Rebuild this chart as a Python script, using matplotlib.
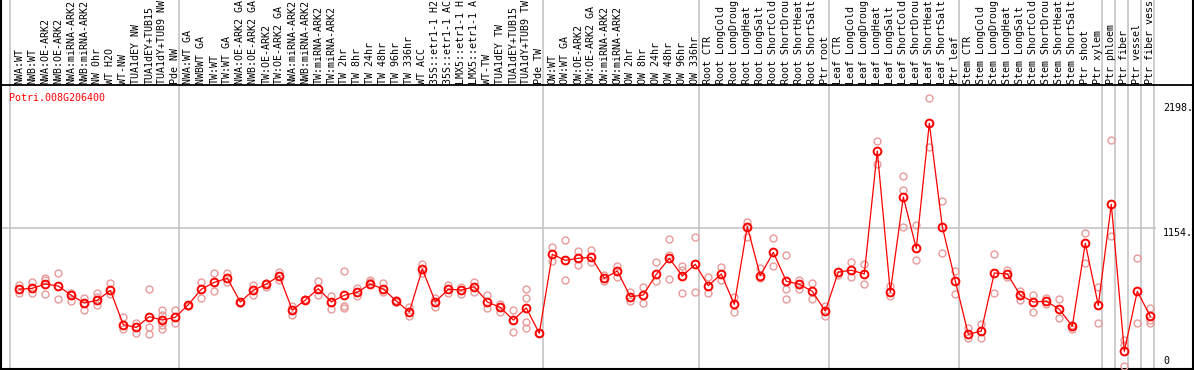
import numpy as np
import matplotlib
matplotlib.use('Agg')
import matplotlib.pyplot as plt

# nomes das amostras (como aparecem, truncados em 14 caracteres)
grupo_nw = ['NWA:WT', 'NWB:WT', 'NWA:OE-ARK2', 'NWB:OE-ARK2', 'NWA:miRNA-ARK2', 'NWB:miRNA-ARK2',
            'NW 0hr', 'WT H2O', 'WT-NW', 'TUA1dEY NW', 'TUA1dEY+TUB15', 'TUA1dY+TUB9 NW', 'Pde NW']
grupo_tw = ['NWA:WT GA', 'NWBWT GA', 'TW:WT', 'TW:WT GA', 'NWA:OE-ARK2 GA', 'NWB:OE-ARK2 GA',
            'TW:OE-ARK2', 'TW:OE-ARK2 GA', 'NWA:miRNA-ARK2', 'NWB:miRNA-ARK2', 'TW:miRNA-ARK2',
            'TW:miRNA-ARK2', 'TW 2hr', 'TW 8hr', 'TW 24hr', 'TW 48hr', 'TW 96hr', 'TW 336hr', 'WT ACC',
            '35S::etr1-1 H2', '35S::etr1-1 AC', 'LMX5::etr1-1 H', 'LMX5::etr1-1 A', 'WT-TW',
            'TUA1dEY TW', 'TUA1dEY+TUB15', 'TUA1dY+TUB9 TW', 'Pde TW']
grupo_ow = ['OW:WT', 'OW:WT GA', 'OW:OE-ARK2', 'OW:OE-ARK2 GA', 'OW:miRNA-ARK2', 'OW:miRNA-ARK2',
            'OW 2hr', 'OW 8hr', 'OW 24hr', 'OW 48hr', 'OW 96hr', 'OW 336hr']
grupo_root = ['Root CTR', 'Root LongCold', 'Root LongDroug', 'Root LongHeat', 'Root LongSalt',
              'Root ShortCold', 'Root ShortDrou', 'Root ShortHeat', 'Root ShortSalt', 'Ptr root']
grupo_leaf = ['Leaf CTR', 'Leaf LongCold', 'Leaf LongDroug', 'Leaf LongHeat', 'Leaf LongSalt',
              'Leaf ShortCold', 'Leaf ShortDrou', 'Leaf ShortHeat', 'Leaf ShortSalt', 'Ptr leaf']
grupo_stem = ['Stem CTR', 'Stem LongCold', 'Stem LongDroug', 'Stem LongHeat', 'Stem LongSalt',
              'Stem ShortCold', 'Stem ShortDrou', 'Stem ShortHeat', 'Stem ShortSalt', 'Ptr shoot',
              'Ptr xylem']
grupo_ptr = [['Ptr phloem'], ['Ptr fiber'], ['Ptr vessel'], ['Ptr fiber vess']]

grupos = [grupo_nw, grupo_tw, grupo_ow, grupo_root, grupo_leaf, grupo_stem] + grupo_ptr
rotulos = [r for g in grupos for r in g]

gene = 'Potri.008G206400'

# media por amostra
medias = [641, 649, 685, 668, 591, 526, 549, 632, 345, 323, 412, 384, 407,
          512, 641, 699, 733, 535, 632, 685, 752, 468, 551, 646, 535, 591, 616, 685, 643,
          543, 451, 810, 537, 641, 635, 662, 535, 490, 384, 485, 273,
          933, 883, 900, 908, 733, 794, 579, 593, 766, 900, 752, 850,
          671, 769, 515, 1164, 754, 950, 708, 683, 624, 459,
          785, 800, 769, 1796, 618, 1412, 983, 2028, 1164, 710,
          265, 292, 777, 769, 591, 535, 541, 474, 332, 1025, 507,
          1351, 123, 624, 415]

# replicas
replicas = [[677, 607], [704, 607], [738, 718, 601], [774, 560], [612, 546], [566, 468, 524],
            [607, 510, 579], [691, 599], [407, 307], [362, 278], [641, 328, 265],
            [468, 426, 343, 309], [468, 357],
            [512, 505], [704, 571], [774, 627], [774, 700], [535, 525], [677, 593], [691, 662],
            [788, 718], [501, 424], [551, 560], [710, 591], [585, 479], [791, 501, 482],
            [649, 587], [718, 704], [691, 621], [548, 538], [490, 418], [850, 779], [566, 490],
            [677, 607], [662, 601], [704, 621], [593, 482], [518, 454], [465, 282],
            [643, 566, 368, 315], [273],
            [997, 879], [1050, 718], [961, 841], [970, 870], [760, 708], [838, 746], [621, 546],
            [657, 524], [866, 713], [1061, 927, 724], [835, 802, 607], [1078, 616],
            [741, 607], [830, 718], [579, 454], [1206, 1080], [816, 733], [1069, 835],
            [927, 643, 562], [718, 643], [696, 560], [501, 418],
            [760], [866, 741], [852, 685], [1880, 1688], [668, 585], [1587, 1470, 1159],
            [1178, 886], [2236, 1832], [1378, 941], [794, 601],
            [320, 231], [351, 236], [936, 607], [800, 746], [627, 551], [596, 449], [566, 518],
            [562, 398], [343, 307], [1109, 858], [662, 357],
            [1888, 1089], [217, 175, 0], [900, 359], [482, 384, 357]]

yticks = [2198, 1154, 0]
ytick_rotulos = ['2198.', '1154.', '0']
linha_grade = 1154

# layout em pixels
W, H = 1194, 370
x0, passo = 19.3, 13.0        # centro da primeira coluna e largura da coluna
y0, escala = 366.0, 0.1197    # pixel do zero e pixels por unidade


def px_x(p):
    return (p - x0) / passo


def px_y(p):
    return (y0 - p) / escala


fig = plt.figure(figsize=(W / 100, H / 100), dpi=100)
ax = fig.add_axes([0, 0, 1, 1])
ax.set_xlim(px_x(0), px_x(W))
ax.set_ylim(px_y(H), px_y(0))
ax.axis('off')

fonte = dict(family='DejaVu Sans Mono', size=7.2)
cinza = '#c0c0c0'

# linhas de separação dos grupos
limites = np.cumsum([0] + [len(g) for g in grupos])
for k in limites:
    ax.plot([k - 0.715, k - 0.715], [px_y(0), px_y(369)], color=cinza, lw=1.1, zorder=1)
ax.plot([px_x(0), px_x(1155)], [linha_grade, linha_grade], color=cinza, lw=1.1, zorder=1)

# moldura
ax.plot([px_x(0), px_x(W)], [px_y(85), px_y(85)], color='black', lw=1.3, zorder=2)
ax.plot([px_x(0), px_x(W)], [px_y(369), px_y(369)], color='black', lw=1.5, zorder=2)
ax.plot([px_x(1), px_x(1)], [px_y(0), px_y(369)], color='black', lw=1.5, zorder=2)
ax.plot([px_x(1193), px_x(1193)], [px_y(0), px_y(369)], color='black', lw=1.5, zorder=2)

x = np.arange(len(medias))

# replicas
for i, reps in enumerate(replicas):
    ax.plot([i] * len(reps), reps, 'o', ms=5.0, mfc='none', mec='#e99a9a', mew=1.0, zorder=3)

# medias
ax.plot(x, medias, '-', color='red', lw=0.9, zorder=4)
ax.plot(x, medias, 'o', ms=5.6, mfc='none', mec='red', mew=1.4, zorder=5)

# rotulos das amostras
for i, r in enumerate(rotulos):
    ax.text(i, px_y(83.5), r[:14], rotation=90, ha='center', va='bottom', color='black', **fonte)

# escala y
for v, t in zip(yticks, ytick_rotulos):
    ax.text(px_x(1163), v, t, ha='left', va='bottom' if v == 0 else 'top', color='black', **fonte)

ax.text(px_x(9), px_y(97.5), gene, ha='left', va='center', color='red', **fonte)

fig.savefig('out.png', dpi=100)
